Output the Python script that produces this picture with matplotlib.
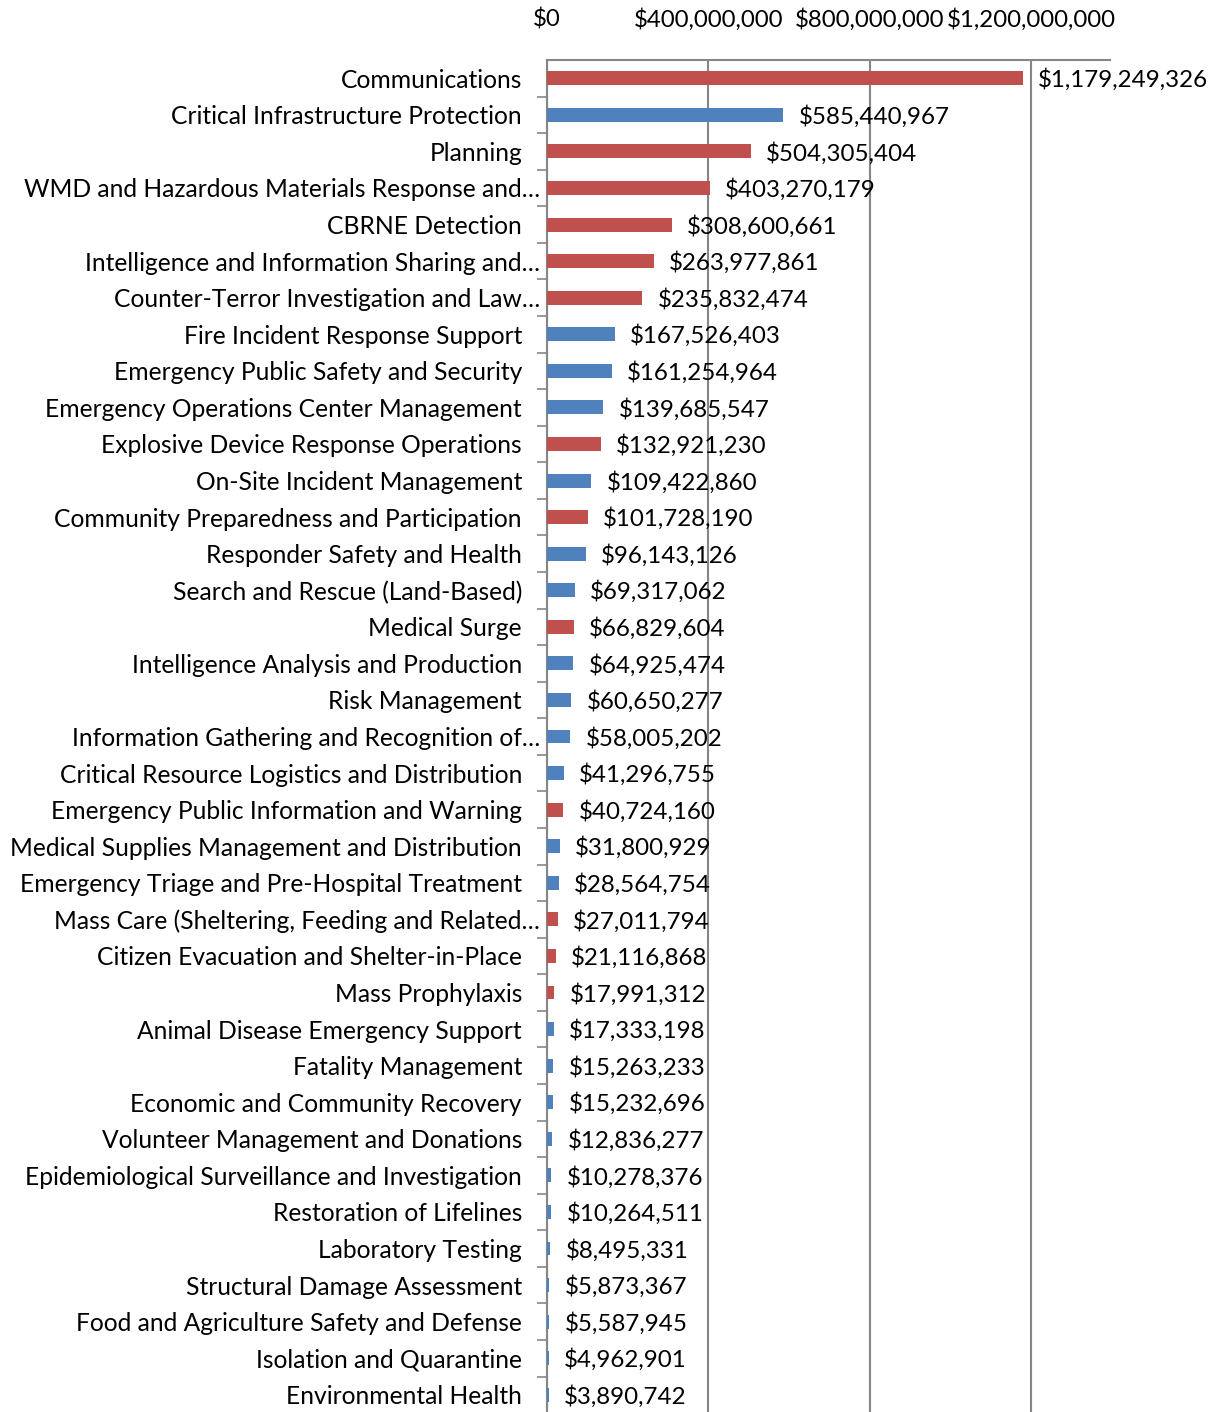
import numpy as np
import matplotlib
matplotlib.use('Agg')
import matplotlib.pyplot as plt
import matplotlib.transforms as mtransforms
from matplotlib.ticker import FuncFormatter, MultipleLocator

plt.rcParams['font.family'] = ['Lato', 'DejaVu Sans']

# %% data
categories = [
    'Communications', 'Critical Infrastructure Protection', 'Planning',
    'WMD and Hazardous Materials Response and…', 'CBRNE Detection',
    'Intelligence and Information Sharing and…', 'Counter-Terror Investigation and Law…',
    'Fire Incident Response Support', 'Emergency Public Safety and Security',
    'Emergency Operations Center Management', 'Explosive Device Response Operations',
    'On-Site Incident Management', 'Community Preparedness and Participation',
    'Responder Safety and Health', 'Search and Rescue (Land-Based)', 'Medical Surge',
    'Intelligence Analysis and Production', 'Risk Management',
    'Information Gathering and Recognition of…', 'Critical Resource Logistics and Distribution',
    'Emergency Public Information and Warning', 'Medical Supplies Management and Distribution',
    'Emergency Triage and Pre-Hospital Treatment', 'Mass Care (Sheltering, Feeding and Related…',
    'Citizen Evacuation and Shelter-in-Place', 'Mass Prophylaxis',
    'Animal Disease Emergency Support', 'Fatality Management',
    'Economic and Community Recovery', 'Volunteer Management and Donations',
    'Epidemiological Surveillance and Investigation', 'Restoration of Lifelines',
    'Laboratory Testing', 'Structural Damage Assessment',
    'Food and Agriculture Safety and Defense', 'Isolation and Quarantine', 'Environmental Health',
]
values = [
    1179249326, 585440967, 504305404, 403270179, 308600661, 263977861, 235832474,
    167526403, 161254964, 139685547, 132921230, 109422860, 101728190, 96143126,
    69317062, 66829604, 64925474, 60650277, 58005202, 41296755, 40724160,
    31800929, 28564754, 27011794, 21116868, 17991312, 17333198, 15263233,
    15232696, 12836277, 10278376, 10264511, 8495331, 5873367, 5587945,
    4962901, 3890742,
]
# 'r' = red series, 'b' = blue series
groups = ['r', 'b', 'r', 'r', 'r', 'r', 'r', 'b', 'b', 'b', 'r', 'b', 'r', 'b', 'b', 'r',
          'b', 'b', 'b', 'b', 'r', 'b', 'b', 'r', 'r', 'r', 'b', 'b', 'b', 'b', 'b', 'b',
          'b', 'b', 'b', 'b', 'b']

# %% plot
colors = {'r': '#C0504D', 'b': '#4F81BD'}
W, H = 1220, 1412
fig = plt.figure(figsize=(W / 100, H / 100), dpi=100)
ax = fig.add_axes([547 / W, 0, (1110 - 547) / W, 1 - 60 / H])

y = np.arange(len(categories))
ax.barh(y, values, height=0.38, color=[colors[g] for g in groups], zorder=3)

for yi, v in zip(y, values):
    ax.annotate('${:,}'.format(v), (v, yi), xytext=(11, -1.2), textcoords='offset points',
                va='center', ha='left', fontsize=17.4, color='black', zorder=4)

ax.set_xlim(0, 1395e6)
ax.set_ylim(36.47, -0.5)
ax.xaxis.set_major_locator(MultipleLocator(400e6))
ax.xaxis.set_major_formatter(FuncFormatter(lambda x, p: '${:,.0f}'.format(x)))
ax.xaxis.tick_top()
ax.tick_params(axis='x', length=0, pad=21, labelsize=17.3)
ax.grid(axis='x', color='#868686', linewidth=1.5, zorder=0)

ax.set_yticks(y)
ax.set_yticklabels(categories)
ax.set_yticks(y[:-1] + 0.5, minor=True)
ax.tick_params(axis='y', which='major', length=0, pad=18, labelsize=17.7)
ax.tick_params(axis='y', which='minor', length=7, width=1.2, color='#868686')

# truncated labels run up to the axis line, as in the original
shift = mtransforms.ScaledTranslation(18 / 100, 0, fig.dpi_scale_trans)
for lab in ax.get_yticklabels():
    if lab.get_text().endswith('…'):
        lab.set_transform(lab.get_transform() + shift)

for s in ['right', 'bottom']:
    ax.spines[s].set_visible(False)
for s in ['left', 'top']:
    ax.spines[s].set_color('#868686')
    ax.spines[s].set_linewidth(1.5)

fig.savefig('out.png', dpi=100)
